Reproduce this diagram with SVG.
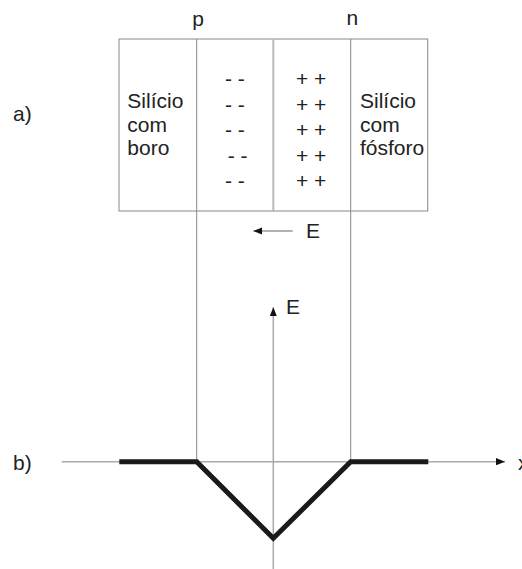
<svg xmlns="http://www.w3.org/2000/svg" width="522" height="569" viewBox="0 0 522 569">
<style>
text{font-family:"Liberation Sans",Arial,sans-serif;font-size:21px;fill:#222}
.ln{stroke:#888;stroke-width:1;fill:none}
.ax{stroke:#aaa;stroke-width:1.5;fill:none}
</style>
<defs>
<marker id="ah" viewBox="0 0 10 8" refX="10" refY="4" markerWidth="9" markerHeight="7.5" markerUnits="userSpaceOnUse" orient="auto">
<path d="M0,0 L10,4 L0,8 Z" fill="#111"/>
</marker>
</defs>
<rect width="522" height="569" fill="#fff"/>
<g id="labels">
<text x="192.3" y="26">p</text>
<text x="346.5" y="25">n</text>
<text x="13" y="121">a)</text>
<text x="13" y="470">b)</text>
</g>
<g id="junction">
<rect class="ln" x="119" y="39" width="308.7" height="172"/>
<line x1="273.3" y1="39" x2="273.3" y2="212" stroke="#bbb" stroke-width="2"/>
</g>
<g id="p-side">
<text x="127.3" y="108">Silício</text>
<text x="127.3" y="131.7">com</text>
<text x="127.3" y="155.4">boro</text>
<text x="225" y="86">- -</text>
<text x="225" y="111.5">- -</text>
<text x="225" y="137">- -</text>
<text x="227.7" y="162.5">- -</text>
<text x="225" y="188">- -</text>
</g>
<g id="n-side">
<text x="360" y="108">Silício</text>
<text x="360" y="131.7">com</text>
<text x="360" y="155.4">fósforo</text>
<text x="296" y="86">+ +</text>
<text x="296" y="111.5">+ +</text>
<text x="296" y="137">+ +</text>
<text x="296" y="162.5">+ +</text>
<text x="296" y="188">+ +</text>
</g>
<g id="field-label">
<text x="306" y="238">E</text>
</g>
<g id="axes-labels">
<text x="286" y="314">E</text>
<text x="518" y="470">x</text>
</g>
<g id="connectors">
<line class="ln" x1="196.7" y1="39" x2="196.7" y2="461.7"/>
<line class="ln" x1="350.7" y1="39" x2="350.7" y2="461.7"/>
<line x1="292.7" y1="231" x2="253.3" y2="231" stroke="#999" stroke-width="1.3" marker-end="url(#ah)"/>
<line class="ax" x1="273.3" y1="569" x2="273.3" y2="307.3" marker-end="url(#ah)"/>
<line class="ax" x1="61.7" y1="461.7" x2="505" y2="461.7" marker-end="url(#ah)"/>
<polyline points="119.3,461.7 196.7,461.7 273.3,538.3 350.7,461.7 428.3,461.7" fill="none" stroke="#1a1a1a" stroke-width="5" stroke-linejoin="miter"/>
</g>
</svg>
